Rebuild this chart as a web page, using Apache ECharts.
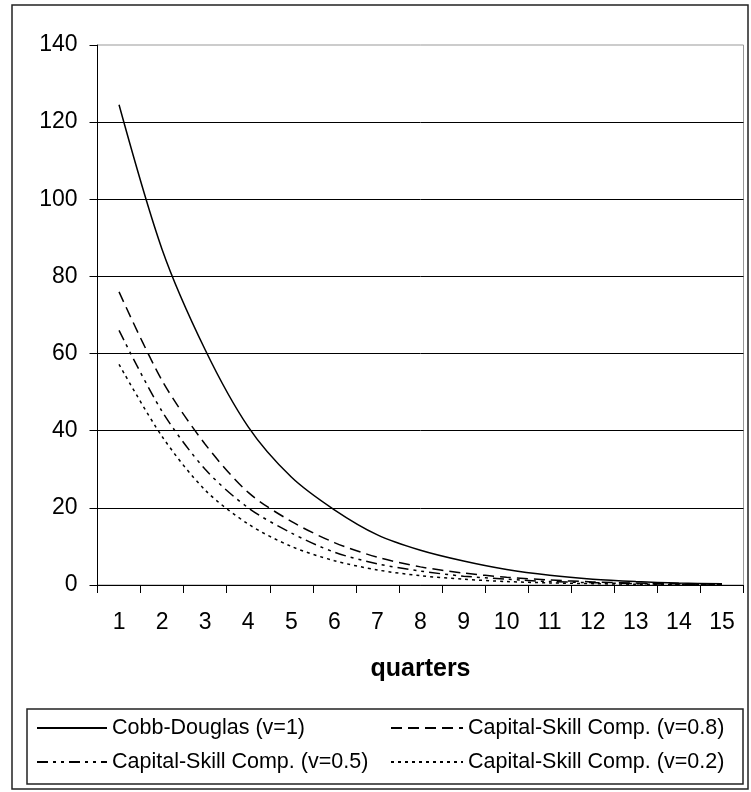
<!DOCTYPE html>
<html>
<head>
<meta charset="utf-8">
<script src="https://cdn.jsdelivr.net/npm/echarts@6/dist/echarts.min.js"></script>
<style>
html,body{margin:0;padding:0;background:#fff;}
#chart{width:751px;height:792px;}
</style>
</head>
<body>
<div id="chart"></div>
<script>
var quarters = ['1','2','3','4','5','6','7','8','9','10','11','12','13','14','15'];
var cobbDouglas = [124.5, 87, 61, 41, 28, 19.5, 13, 9, 6.2, 4.0, 2.5, 1.5, 0.9, 0.5, 0.3];
var csc08 = [76, 53, 36.5, 24, 16.5, 11, 7.2, 4.7, 3.1, 2.0, 1.3, 0.8, 0.5, 0.3, 0.2];
var csc05 = [66, 45, 30, 20, 13.5, 8.5, 5.5, 3.6, 2.3, 1.5, 0.9, 0.6, 0.35, 0.2, 0.12];
var csc02 = [57.2, 38.5, 24.6, 15.8, 10, 6.3, 3.9, 2.4, 1.5, 0.9, 0.55, 0.35, 0.2, 0.12, 0.08];
var seriesNames = ['Cobb-Douglas (v=1)', 'Capital-Skill Comp. (v=0.8)', 'Capital-Skill Comp. (v=0.5)', 'Capital-Skill Comp. (v=0.2)'];
var yTicks = { min: 0, max: 140, interval: 20 };
var xAxisTitle = 'quarters';

var FONT = '"Liberation Sans", Arial, sans-serif';
var chart = echarts.init(document.getElementById('chart'), null, {renderer: 'canvas'});

function mkSeries(name, data, type) {
  return {
    name: name, type: 'line', data: data, symbol: 'none', smooth: 0.3,
    lineStyle: { color: '#000', width: 1.5, type: type },
    itemStyle: { color: '#000' },
    emphasis: { disabled: true }, animation: false
  };
}
function mkLegend(name, left, top, w) {
  return {
    data: [name], left: left, top: top, padding: 0, itemWidth: w, itemHeight: 14,
    selectedMode: false,
    itemStyle: { opacity: 0 },
    textStyle: { fontFamily: FONT, fontSize: 21.5, color: '#000' }
  };
}

chart.setOption({
  animation: false,
  backgroundColor: '#fff',
  graphic: [
    { type: 'rect', shape: { x: 12, y: 5, width: 736, height: 784 }, style: { fill: 'none', stroke: '#222', lineWidth: 1.5 }, z: -1 },
    { type: 'rect', shape: { x: 27, y: 709, width: 716, height: 75 }, style: { fill: 'none', stroke: '#222', lineWidth: 1.5 }, z: -1 }
  ],
  grid: { left: 97.5, right: 7.5, top: 45, bottom: 207, show: true, borderColor: '#999', borderWidth: 1, backgroundColor: 'transparent' },
  legend: [
    mkLegend(seriesNames[0], 36, 717, 70),
    mkLegend(seriesNames[1], 390, 717, 72),
    mkLegend(seriesNames[2], 36, 751, 70),
    mkLegend(seriesNames[3], 390, 751, 72)
  ],
  xAxis: {
    type: 'category', data: quarters, boundaryGap: true,
    name: xAxisTitle, nameLocation: 'middle', nameGap: 72,
    nameTextStyle: { fontFamily: FONT, fontSize: 25, fontWeight: 'bold', color: '#000' },
    axisLine: { show: true, lineStyle: { color: '#000', width: 1 } },
    axisTick: { show: true, length: 8, inside: false, lineStyle: { color: '#000', width: 1 } },
    axisLabel: { fontFamily: FONT, fontSize: 23, color: '#000', margin: 26 },
    splitLine: { show: false }
  },
  yAxis: {
    type: 'value', min: yTicks.min, max: yTicks.max, interval: yTicks.interval,
    axisLine: { show: true, lineStyle: { color: '#000', width: 1 } },
    axisTick: { show: true, length: 8, lineStyle: { color: '#000', width: 1 } },
    axisLabel: { fontFamily: FONT, fontSize: 23, color: '#000', margin: 20 },
    splitLine: { show: true, showMaxLine: false, lineStyle: { color: '#000', width: 1 } }
  },
  series: [
    mkSeries(seriesNames[0], cobbDouglas, 'solid'),
    mkSeries(seriesNames[1], csc08, [11, 6]),
    mkSeries(seriesNames[2], csc05, [11, 5, 3, 5, 3, 5]),
    mkSeries(seriesNames[3], csc02, [3, 4])
  ]
});
</script>
</body>
</html>
